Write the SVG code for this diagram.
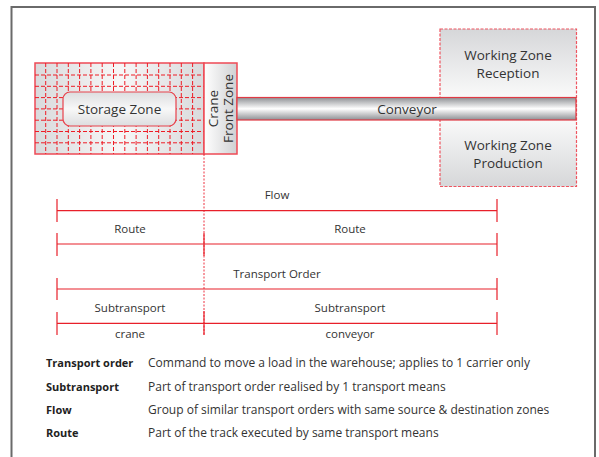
<svg xmlns="http://www.w3.org/2000/svg" width="599" height="457" viewBox="0 0 599 457">
<defs>
<linearGradient id="gStore" x1="0" y1="0" x2="1" y2="0">
<stop offset="0" stop-color="#d9dadc"/><stop offset="0.5" stop-color="#f7f7f7"/><stop offset="1" stop-color="#d9dadc"/>
</linearGradient>
<linearGradient id="gCrane" x1="0" y1="0" x2="1" y2="0">
<stop offset="0" stop-color="#ffffff"/><stop offset="1" stop-color="#cfd0d2"/>
</linearGradient>
<linearGradient id="gInner" x1="0" y1="0" x2="0" y2="1">
<stop offset="0" stop-color="#dcdddf"/><stop offset="0.5" stop-color="#f8f8f8"/><stop offset="1" stop-color="#dcdddf"/>
</linearGradient>
<linearGradient id="gConv" x1="0" y1="0" x2="0" y2="1">
<stop offset="0" stop-color="#8e9094"/><stop offset="0.5" stop-color="#ffffff"/><stop offset="1" stop-color="#8e9094"/>
</linearGradient>
<linearGradient id="gWork" x1="0" y1="0" x2="0" y2="1">
<stop offset="0" stop-color="#d6d7d9"/><stop offset="0.5" stop-color="#ffffff"/><stop offset="1" stop-color="#d6d7d9"/>
</linearGradient>
<style>
.t{font-family:"Open Sans","DejaVu Sans",sans-serif;fill:#333;}
.lbl{font-size:13.5px;text-anchor:middle;}
.sm{font-size:11.5px;text-anchor:middle;}
.leg{font-size:11px;}
.desc{font-size:12px;}
.b{font-weight:bold;fill:#222;}
.grid{stroke:#ee1c25;stroke-width:1;stroke-dasharray:4,2;fill:none;}
.ln{stroke:#e8202a;stroke-width:1.2;fill:none;}
</style>
</defs>
<rect width="599" height="457" fill="#fff"/>
<path d="M11.5,457 V7 H595 V457" fill="none" stroke="#6a6a6a" stroke-width="2"/>

<g id="storage-zone">
<rect x="35" y="63" width="169" height="91" fill="url(#gStore)" stroke="#ee4a55" stroke-width="1.5"/>
<path class="grid" d="M45.7,63V154M57,63V154M68.3,63V154M79.6,63V154M90.9,63V154M102.2,63V154M113.5,63V154M124.8,63V154M136.1,63V154M147.4,63V154M158.7,63V154M170,63V154M181.3,63V154M192.6,63V154M35,75H204M35,86.3H204M35,97.6H204M35,108.9H204M35,120.2H204M35,131.5H204M35,142.8H204"/>
<rect x="63" y="92" width="113" height="34" rx="7" fill="url(#gInner)" stroke="#e8424c" stroke-width="1.2"/>
<text class="t lbl" x="119.5" y="114">Storage Zone</text>
</g>

<g id="crane-front-zone">
<rect x="204" y="63" width="33" height="91" fill="url(#gCrane)" stroke="#ee4a55" stroke-width="1.5"/>
<text class="t lbl" transform="translate(217.5,108.5) rotate(-90)" y="0">Crane</text>
<text class="t lbl" transform="translate(233,108.5) rotate(-90)" y="0">Front Zone</text>
</g>

<g id="working-zone">
<rect x="440" y="29" width="136.5" height="157.5" fill="url(#gWork)" stroke="#ee5560" stroke-width="1.2" stroke-dasharray="3,1.5"/>
<text class="t lbl" x="508" y="60">Working Zone</text>
<text class="t lbl" x="508" y="78">Reception</text>
<text class="t lbl" x="508" y="150">Working Zone</text>
<text class="t lbl" x="508" y="168">Production</text>
</g>

<g id="conveyor">
<rect x="237" y="97.5" width="339" height="22.5" fill="url(#gConv)" stroke="#e03a44" stroke-width="1.2"/>
<text class="t lbl" x="407" y="113.5">Conveyor</text>
</g>

<g id="connectors">
<line x1="204" y1="154" x2="204" y2="335" stroke="#ee3340" stroke-width="1" stroke-dasharray="2,1.5"/>
<path class="ln" d="M57,210.7H497M57,199V222M497,199V222"/>
<path class="ln" d="M57,244H497M57,233V256M497,233V256M204,233V256"/>
<path class="ln" d="M57,289H497M57,278V300M497,278V300"/>
<path class="ln" d="M57,323.3H497M57,312V335M497,312V335M204,311V335"/>
</g>

<g id="dimension-labels">
<text class="t sm" x="277" y="199">Flow</text>
<text class="t sm" x="130" y="233">Route</text>
<text class="t sm" x="350" y="233">Route</text>
<text class="t sm" x="277" y="278">Transport Order</text>
<text class="t sm" x="130" y="312">Subtransport</text>
<text class="t sm" x="350" y="312">Subtransport</text>
<text class="t sm" x="130" y="338">crane</text>
<text class="t sm" x="350" y="338">conveyor</text>
</g>

<g id="legend">
<text class="t leg b" x="46" y="367">Transport order</text>
<text class="t desc" x="148" y="367">Command to move a load in the warehouse; applies to 1 carrier only</text>
<text class="t leg b" x="46" y="391">Subtransport</text>
<text class="t desc" x="148" y="391">Part of transport order realised by 1 transport means</text>
<text class="t leg b" x="46" y="414">Flow</text>
<text class="t desc" x="148" y="414">Group of similar transport orders with same source &amp; destination zones</text>
<text class="t leg b" x="46" y="437">Route</text>
<text class="t desc" x="148" y="437">Part of the track executed by same transport means</text>
</g>
</svg>
